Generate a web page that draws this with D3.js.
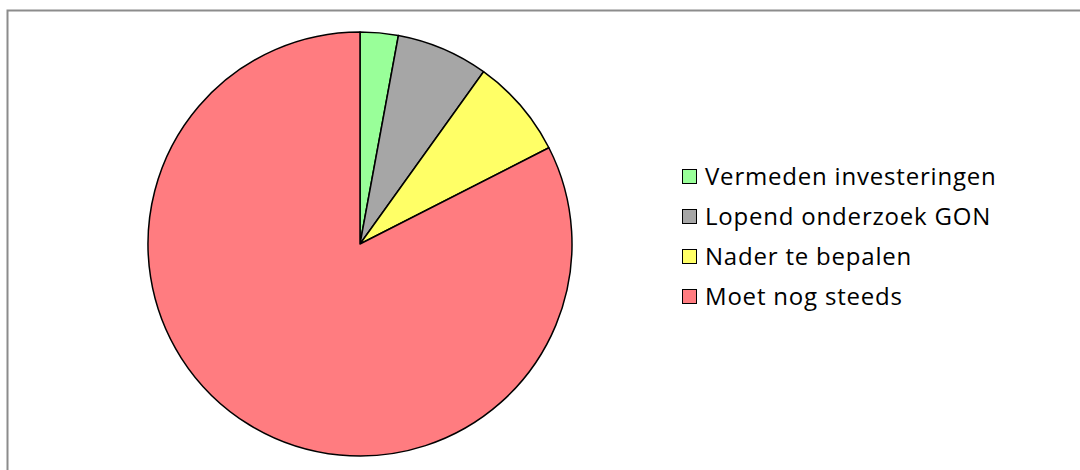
<!DOCTYPE html>
<html>
<head>
<meta charset="utf-8">
<script src="https://cdn.jsdelivr.net/npm/d3@7"></script>
<style>
  html, body { margin: 0; padding: 0; background: #fff; }
  svg { display: block; }
</style>
</head>
<body>
<svg id="chart" width="1080" height="470"></svg>
<script>
const categories = ['Vermeden investeringen', 'Lopend onderzoek GON', 'Nader te bepalen', 'Moet nog steeds'];
const values = [2.9, 7.0, 7.6, 82.5];
const colors = ['#99ff99', '#a6a6a6', '#ffff66', '#ff7c80'];

const svg = d3.select('#chart');
const width = 1080, height = 470;
const center = { x: 360, y: 244 };
const radius = 212;

// chart area frame (runs off the right and bottom edges)
svg.append('path')
    .attr('d', `M7.5,${height + 5}V10.5H${width + 5}`)
    .attr('fill', 'none')
    .attr('stroke', '#8c8c8c')
    .attr('stroke-width', 2);

const color = d3.scaleOrdinal().domain(categories).range(colors);

const pie = d3.pie().sort(null).value((d, i) => values[i]);
const arc = d3.arc().innerRadius(0).outerRadius(radius);

svg.append('g')
    .attr('transform', `translate(${center.x},${center.y})`)
    .selectAll('path')
    .data(pie(categories))
    .join('path')
    .attr('d', arc)
    .attr('fill', (d) => color(d.data))
    .attr('stroke', '#000')
    .attr('stroke-width', 1.5)
    .attr('stroke-linejoin', 'round');

const legend = svg.append('g').attr('transform', 'translate(682,169)');
const rows = legend.selectAll('g')
    .data(categories)
    .join('g')
    .attr('transform', (d, i) => `translate(0,${i * 40})`);

rows.append('rect')
    .attr('x', 0.5)
    .attr('y', 0.5)
    .attr('width', 14)
    .attr('height', 14)
    .attr('fill', (d) => color(d))
    .attr('stroke', '#000')
    .attr('stroke-width', 1);

rows.append('text')
    .attr('x', 23)
    .attr('y', 15.5)
    .attr('font-family', 'Open Sans, sans-serif')
    .attr('font-size', 24)
    .attr('letter-spacing', 0.8)
    .attr('fill', '#000')
    .text((d) => d);
</script>
</body>
</html>
